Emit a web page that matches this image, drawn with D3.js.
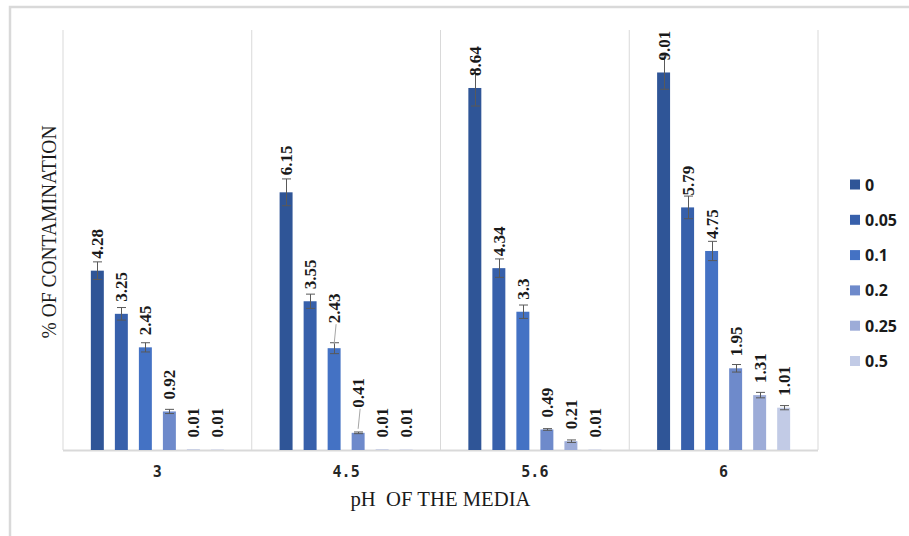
<!DOCTYPE html>
<html>
<head>
<meta charset="utf-8">
<script src="https://cdn.jsdelivr.net/npm/d3@7"></script>
<style>
  html, body { margin: 0; padding: 0; background: #ffffff; }
  svg { display: block; }
</style>
</head>
<body>
<svg id="chart" width="909" height="536"></svg>
<script>
// ---- data ----
const categories = ["3", "4.5", "5.6", "6"];
const seriesNames = ["0", "0.05", "0.1", "0.2", "0.25", "0.5"];
const values = [
  [4.28, 3.25, 2.45, 0.92, 0.01, 0.01],
  [6.15, 3.55, 2.43, 0.41, 0.01, 0.01],
  [8.64, 4.34, 3.3, 0.49, 0.21, 0.01],
  [9.01, 5.79, 4.75, 1.95, 1.31, 1.01]
];
const errors = [
  [0.21, 0.15, 0.11, 0.05, 0, 0],
  [0.32, 0.17, 0.13, 0.02, 0, 0],
  [0.43, 0.22, 0.16, 0.02, 0.03, 0],
  [0.40, 0.27, 0.23, 0.09, 0.065, 0.05]
];
const yDomain = [0, 10];
const xTitle = "pH  OF THE MEDIA";
const yTitle = "% OF CONTAMINATION";

// ---- style / layout ----
const colors = ["#2F5597", "#3760AB", "#4472C4", "#6E8ACB", "#9DACD8", "#C2CBE6"];
const plot = { left: 63, right: 818, top: 31, bottom: 450 };
// labels with leader lines (extra offset, px)
const labelShift = { "1-2": 13, "1-3": 13, "1-0": 5 };

const svg = d3.select("#chart");

// outer frame (top and left edges visible)
svg.append("path")
  .attr("d", "M10,536 L10,7 L909,7")
  .attr("fill", "none").attr("stroke", "#d9d9d9").attr("stroke-width", 2.5);

const x0 = d3.scaleBand().domain(categories).range([plot.left, plot.right]).padding(0);
const x1 = d3.scaleBand().domain(seriesNames).range([0, x0.bandwidth()])
  .paddingInner(0.46).paddingOuter(1.16);
const y = d3.scaleLinear().domain(yDomain).range([plot.bottom, plot.top]);

// vertical category separators
const seps = categories.map(c => x0(c)).concat([x0(categories[categories.length - 1]) + x0.bandwidth()]);
svg.append("g").selectAll("line").data(seps).join("line")
  .attr("x1", d => d).attr("x2", d => d)
  .attr("y1", y(yDomain[1]) - 1).attr("y2", plot.bottom)
  .attr("stroke", "#d9d9d9").attr("stroke-width", 1);

// baseline
svg.append("line")
  .attr("x1", plot.left).attr("x2", plot.right)
  .attr("y1", y(0) + 0.5).attr("y2", y(0) + 0.5)
  .attr("stroke", "#d9d9d9").attr("stroke-width", 2);

const flat = [];
categories.forEach((c, ci) => seriesNames.forEach((s, si) => {
  flat.push({ c, ci, s, si, v: values[ci][si], e: errors[ci][si] });
}));

// bars
svg.append("g").selectAll("rect").data(flat).join("rect")
  .attr("x", d => x0(d.c) + x1(d.s))
  .attr("y", d => y(d.v))
  .attr("width", x1.bandwidth())
  .attr("height", d => y(0) - y(d.v))
  .attr("fill", d => colors[d.si]);

// error bars
const capW = 9;
const eg = svg.append("g").attr("stroke", "#595959").attr("stroke-width", 1);
flat.filter(d => d.e > 0).forEach(d => {
  const cx = Math.round(x0(d.c) + x1(d.s) + x1.bandwidth() / 2) + 0.5;
  const yt = y(d.v + d.e), yb = y(d.v - d.e);
  eg.append("line").attr("x1", cx).attr("x2", cx).attr("y1", yt).attr("y2", yb);
  eg.append("line").attr("x1", cx - capW / 2).attr("x2", cx + capW / 2).attr("y1", yt).attr("y2", yt);
  eg.append("line").attr("x1", cx - capW / 2).attr("x2", cx + capW / 2).attr("y1", yb).attr("y2", yb);
});

// data labels (rotated)
const lg = svg.append("g");
flat.forEach(d => {
  const cx = x0(d.c) + x1(d.s) + x1.bandwidth() / 2;
  const extra = labelShift[d.ci + "-" + d.si] || 0;
  const ys = y(d.v) - 12 - extra;
  if (extra > 8) {
    lg.append("line")
      .attr("x1", cx + 2).attr("x2", cx)
      .attr("y1", ys + 1).attr("y2", y(d.v) - 4)
      .attr("stroke", "#a6a6a6").attr("stroke-width", 1);
  }
  lg.append("text")
    .attr("transform", `translate(${cx + 6},${ys}) rotate(-90)`)
    .attr("text-anchor", "start")
    .attr("font-family", "'Liberation Serif', 'Times New Roman', serif")
    .attr("font-weight", "bold")
    .attr("font-size", 17)
    .attr("fill", "#1a1a1a")
    .text(String(d.v));
});

// category labels
svg.append("g").selectAll("text").data(categories).join("text")
  .attr("x", d => x0(d) + x0.bandwidth() / 2)
  .attr("y", 477)
  .attr("text-anchor", "middle")
  .attr("font-family", "'DejaVu Sans Mono', monospace")
  .attr("font-weight", "bold")
  .attr("font-size", 15)
  .attr("fill", "#262626")
  .text(d => d);

// axis titles
svg.append("text")
  .attr("x", (plot.left + plot.right) / 2)
  .attr("y", 506)
  .attr("text-anchor", "middle")
  .attr("font-family", "'Liberation Serif', 'Times New Roman', serif")
  .attr("font-size", 21)
  .attr("textLength", 180)
  .attr("lengthAdjust", "spacingAndGlyphs")
  .attr("fill", "#1a1a1a")
  .style("white-space", "pre")
  .text(xTitle);

svg.append("text")
  .attr("transform", "translate(56,232) rotate(-90)")
  .attr("text-anchor", "middle")
  .attr("font-family", "'Liberation Serif', 'Times New Roman', serif")
  .attr("font-size", 20)
  .attr("textLength", 213)
  .attr("lengthAdjust", "spacingAndGlyphs")
  .attr("fill", "#1a1a1a")
  .text(yTitle);

// legend
const legend = svg.append("g");
seriesNames.forEach((s, i) => {
  const cy = 184.5 + i * 35.3;
  legend.append("rect")
    .attr("x", 850).attr("y", cy - 5).attr("width", 10).attr("height", 10)
    .attr("fill", colors[i]);
  legend.append("text")
    .attr("x", 865).attr("y", cy + 6)
    .attr("font-family", "'Open Sans', sans-serif")
    .attr("font-weight", "bold")
    .attr("font-size", 16)
    .attr("fill", "#1a1a1a")
    .text(s);
});
</script>
</body>
</html>
